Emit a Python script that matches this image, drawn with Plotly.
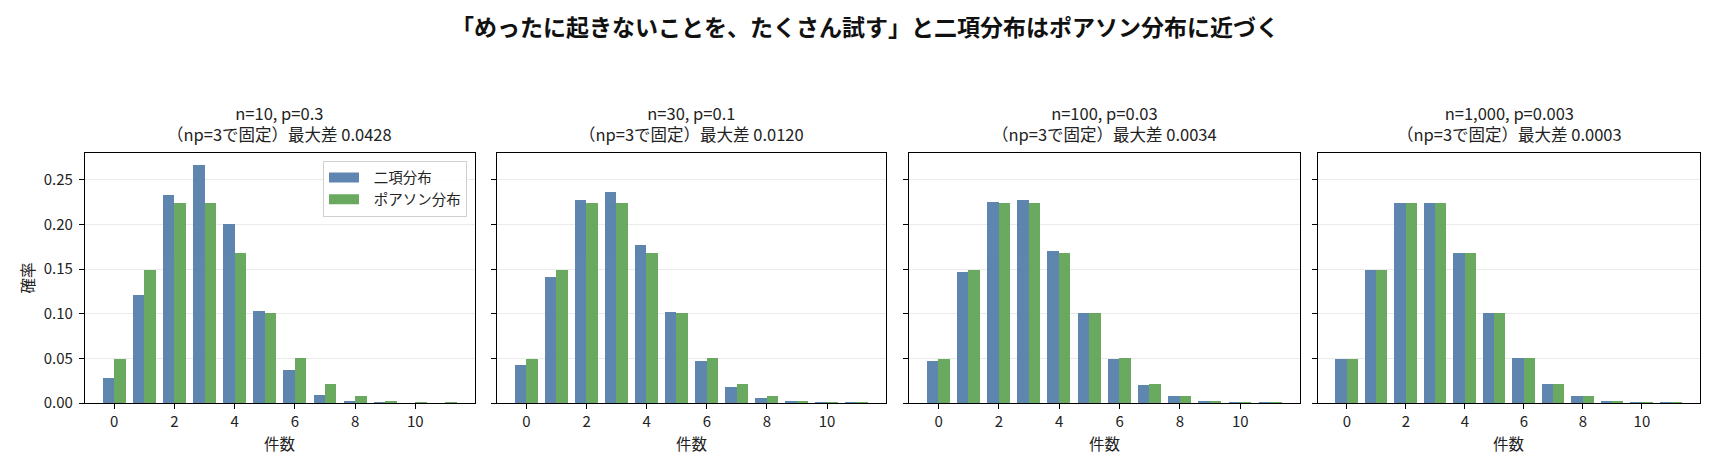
import plotly.graph_objects as go

# ---- data ----
counts = [0, 1, 2, 3, 4, 5, 6, 7, 8, 9, 10, 11]
panel_n = ["10", "30", "100", "1,000"]
panel_p = ["0.3", "0.1", "0.03", "0.003"]
max_diff = ["0.0428", "0.0120", "0.0034", "0.0003"]

binom_n10 = [0.0282, 0.1211, 0.2335, 0.2668, 0.2001, 0.1029, 0.0368, 0.0090, 0.0014, 0.0001, 0.0000, 0.0000]
binom_n30 = [0.0424, 0.1413, 0.2277, 0.2361, 0.1771, 0.1023, 0.0474, 0.0180, 0.0058, 0.0016, 0.0004, 0.0001]
binom_n100 = [0.0476, 0.1471, 0.2252, 0.2275, 0.1706, 0.1013, 0.0496, 0.0206, 0.0074, 0.0023, 0.0007, 0.0002]
binom_n1000 = [0.0496, 0.1491, 0.2241, 0.2244, 0.1680, 0.1007, 0.0503, 0.0215, 0.0080, 0.0027, 0.0008, 0.0002]
poisson_l3 = [0.0498, 0.1494, 0.2240, 0.2240, 0.1680, 0.1008, 0.0504, 0.0216, 0.0081, 0.0027, 0.0008, 0.0002]

binom_series = [binom_n10, binom_n30, binom_n100, binom_n1000]
y_ticks = [0.0, 0.05, 0.10, 0.15, 0.20, 0.25]
x_ticks = [0, 2, 4, 6, 8, 10]
series_names = ["二項分布", "ポアソン分布"]

# ---- style ----
FONT = "Noto Sans CJK JP, Noto Sans, sans-serif"
BLUE = "#4E79A7"
GREEN = "#59A14F"
BLUE_A = "rgba(78,121,167,0.9)"
GREEN_A = "rgba(89,161,79,0.9)"
W, H = 1714, 458
ML, MR, MT, MB = 77, 22, 145, 63
PW = W - ML - MR
PH = H - MT - MB
px_dom = [(77, 466.7), (489.3, 878.3), (901.3, 1291.7), (1310.3, 1692)]
domains = [[(a - ML) / PW, (b - ML) / PW] for a, b in px_dom]

fig = go.Figure()
for i, b in enumerate(binom_series):
    xa = "x" if i == 0 else f"x{i+1}"
    ya = "y" if i == 0 else f"y{i+1}"
    fig.add_trace(go.Bar(x=counts, y=b, width=0.38, offset=-0.38,
                         marker=dict(color=BLUE, line=dict(width=0)), opacity=0.9,
                         name=series_names[0], showlegend=False, xaxis=xa, yaxis=ya))
    fig.add_trace(go.Bar(x=counts, y=poisson_l3, width=0.38, offset=0.0,
                         marker=dict(color=GREEN, line=dict(width=0)), opacity=0.9,
                         name=series_names[1], showlegend=False, xaxis=xa, yaxis=ya))

# legend-only entries with wide rectangular swatches (like matplotlib patches)
NB = "\u00a0\u00a0\u00a0"
for name, col in zip(series_names, [BLUE_A, GREEN_A]):
    fig.add_trace(go.Scatter(x=[None], y=[None], mode="lines", name=NB + name,
                             line=dict(color=col, width=10), xaxis="x", yaxis="y",
                             hoverinfo="skip"))

ymax = max(max(b) for b in binom_series + [poisson_l3]) * 1.05

annotations = []
for i in range(4):
    xk = "xaxis" if i == 0 else f"xaxis{i+1}"
    yk = "yaxis" if i == 0 else f"yaxis{i+1}"
    fig.layout[xk] = dict(
        domain=domains[i], anchor="y" if i == 0 else f"y{i+1}",
        range=[-0.97, 11.97], tickvals=x_ticks, ticks="outside", ticklen=5,
        tickwidth=1, tickcolor="black", showline=True, linecolor="black",
        linewidth=1.1, mirror=True, showgrid=False, zeroline=False,
        tickfont=dict(size=15, color="#222"),
    )
    fig.layout[yk] = dict(
        anchor="x" if i == 0 else f"x{i+1}",
        range=[0, ymax], tickvals=y_ticks, tickformat=".2f",
        ticks="outside", ticklen=5, tickwidth=1, tickcolor="black",
        showticklabels=(i == 0), showline=True, linecolor="black",
        linewidth=1.1, mirror=True, showgrid=True, gridcolor="#ebebeb",
        gridwidth=1, zeroline=False, tickfont=dict(size=15, color="#222"),
        ticklabelstandoff=3,
    )
    annotations.append(dict(
        text=f"n={panel_n[i]}, p={panel_p[i]}<br>（np=3で固定）最大差 {max_diff[i]}",
        xref="paper", yref="paper", x=sum(domains[i]) / 2, y=1,
        xanchor="center", yanchor="bottom", yshift=5, showarrow=False,
        font=dict(size=16.5, color="#222", family=FONT), align="center",
    ))
    # x-axis title
    annotations.append(dict(
        text="件数", xref="paper", yref="paper", x=sum(domains[i]) / 2,
        y=(MT + PH - 435) / PH, xanchor="center", yanchor="middle",
        showarrow=False, font=dict(size=15.5, color="#222", family=FONT),
    ))

# y-axis title
annotations.append(dict(
    text="確率", xref="paper", yref="paper", x=(18.5 - ML) / PW, y=0.5,
    xanchor="center", yanchor="middle", textangle=-90, showarrow=False,
    font=dict(size=15.5, color="#222", family=FONT),
))

fig.update_layout(
    width=W, height=H, margin=dict(l=ML, r=MR, t=MT, b=MB),
    barmode="overlay", bargap=0,
    paper_bgcolor="white", plot_bgcolor="white",
    font=dict(family=FONT, color="#222"),
    title=dict(text="<b>「めったに起きないことを、たくさん試す」と二項分布はポアソン分布に近づく</b>",
               x=0.5, xanchor="center", y=1 - 20 / H, yanchor="middle",
               font=dict(size=23, color="#111", family=FONT)),
    legend=dict(x=(459 - ML) / PW, xanchor="right", y=0.97, yanchor="top",
                bgcolor="rgba(255,255,255,0.85)", bordercolor="#d0d0d0", borderwidth=1,
                font=dict(size=14.5, color="#222"), itemwidth=30, tracegroupgap=2),
    annotations=annotations,
)

fig.write_html("out.html")
